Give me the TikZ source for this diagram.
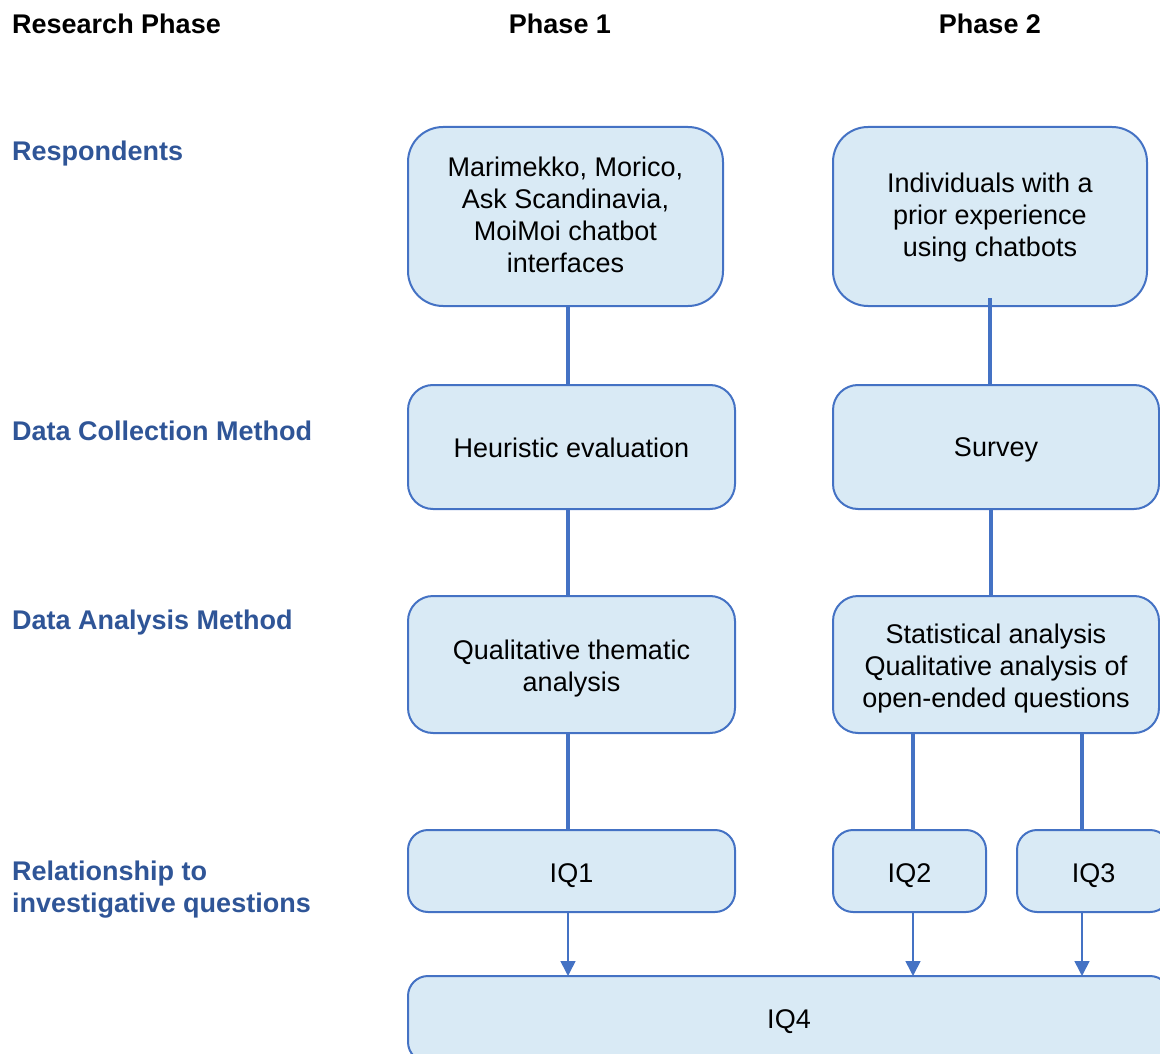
\documentclass[tikz,border=0pt]{standalone}
\usepackage{fontspec}
\setmainfont{Liberation Sans}
\usetikzlibrary{arrows.meta}
\definecolor{boxfill}{RGB}{217,234,245}
\definecolor{boxline}{RGB}{68,114,196}
\definecolor{rowlabel}{RGB}{47,85,151}
\tikzset{
  stagebox/.style={draw=boxline, fill=boxfill, line width=2pt, inner sep=0pt, outer sep=0pt},
  boxtext/.style={align=center, inner sep=0pt, font=\fontsize{27}{32}\selectfont},
  header/.style={font=\fontsize{27}{32}\selectfont\bfseries, text=black, inner sep=0pt},
  rowhead/.style={font=\fontsize{27}{32}\selectfont\bfseries, text=rowlabel, inner sep=0pt, anchor=west, align=left},
  link/.style={draw=boxline, line width=3.5pt},
  feed/.style={draw=boxline, line width=1.6pt, -{Triangle[width=15pt,length=15pt]}},
}
\begin{document}
\begin{tikzpicture}[x=1pt, y=-1pt]
\useasboundingbox (0,0) rectangle (1160,1054);
\clip (0,0) rectangle (1160,1054);

% column headers
\node[header, anchor=west] (hdr) at (12,24) {Research Phase};
\node[header] (ph1) at (560,24) {Phase 1};
\node[header] (ph2) at (990,24) {Phase 2};

% row labels
\node[rowhead] (lresp) at (12,154) {Respondents};
\node[rowhead] (lcoll) at (12,431) {Data Collection Method};
\node[rowhead] (lanal) at (12,623) {Data Analysis Method};
\node[rowhead] (lrel)  at (12,890) {Relationship to\\investigative questions};

% stage boxes
\node[stagebox, rounded corners=35pt, minimum width=315pt, minimum height=179pt] (r1) at (565.5,216.5) {};
\node[stagebox, rounded corners=35pt, minimum width=314pt, minimum height=179pt] (r2) at (990,216.5) {};
\node[stagebox, rounded corners=25pt, minimum width=327pt, minimum height=124pt] (c1) at (571.5,447) {};
\node[stagebox, rounded corners=25pt, minimum width=326pt, minimum height=124pt] (c2) at (996,447) {};
\node[stagebox, rounded corners=25pt, minimum width=327pt, minimum height=137pt] (a1) at (571.5,664.5) {};
\node[stagebox, rounded corners=25pt, minimum width=326pt, minimum height=137pt] (a2) at (996,664.5) {};
\node[stagebox, rounded corners=20pt, minimum width=327pt, minimum height=82pt] (q1) at (571.5,871) {};
\node[stagebox, rounded corners=20pt, minimum width=153pt, minimum height=82pt] (q2) at (909.5,871) {};
\node[stagebox, rounded corners=20pt, minimum width=153pt, minimum height=82pt] (q3) at (1093.5,871) {};
\node[stagebox, rounded corners=20pt, minimum width=762pt, minimum height=86pt] (q4) at (789,1019) {};

% box texts
\node[boxtext] (r1t) at ([yshift=2pt]r1.center)
  {Marimekko, Morico,\\Ask Scandinavia,\\MoiMoi chatbot\\interfaces};
\node[boxtext] (r2t) at ([yshift=-1pt]r2.center)
  {Individuals with a\\prior experience\\using chatbots};
\node[boxtext] (c1t) at ([yshift=-1pt]c1.center) {Heuristic evaluation};
\node[boxtext] (c2t) at ([yshift=-3pt]c2.center) {Survey};
\node[boxtext] (a1t) at ([yshift=-4pt]a1.center) {Qualitative thematic\\analysis};
\node[boxtext] (a2t) at ([yshift=-4pt]a2.center)
  {Statistical analysis\\Qualitative analysis of\\open-ended questions};
\node[boxtext] (q1t) at ([yshift=-5pt]q1.center) {IQ1};
\node[boxtext] (q2t) at ([yshift=-5pt]q2.center) {IQ2};
\node[boxtext] (q3t) at ([yshift=-5pt]q3.center) {IQ3};
\node[boxtext] (q4t) at ([yshift=-3pt]q4.center) {IQ4};

% connector columns
\coordinate (col1) at (568,0);
\coordinate (col2) at (990,0);
\coordinate (col3) at (991,0);
\coordinate (col4) at (913,0);
\coordinate (col5) at (1082,0);

% vertical links between stages
\draw[link] (r1.south -| col1) -- (c1.north -| col1);
\draw[link] ([yshift=8pt]r2.south -| col2) -- (c2.north -| col2);
\draw[link] (c1.south -| col1) -- (a1.north -| col1);
\draw[link] (c2.south -| col3) -- (a2.north -| col3);
\draw[link] (a1.south -| col1) -- (q1.north -| col1);
\draw[link] (a2.south -| col4) -- (q2.north -| col4);
\draw[link] (a2.south -| col5) -- (q3.north -| col5);

% arrows into IQ4
\draw[feed] (q1.south -| col1) -- (q4.north -| col1);
\draw[feed] (q2.south -| col4) -- (q4.north -| col4);
\draw[feed] (q3.south -| col5) -- (q4.north -| col5);
\end{tikzpicture}
\end{document}
